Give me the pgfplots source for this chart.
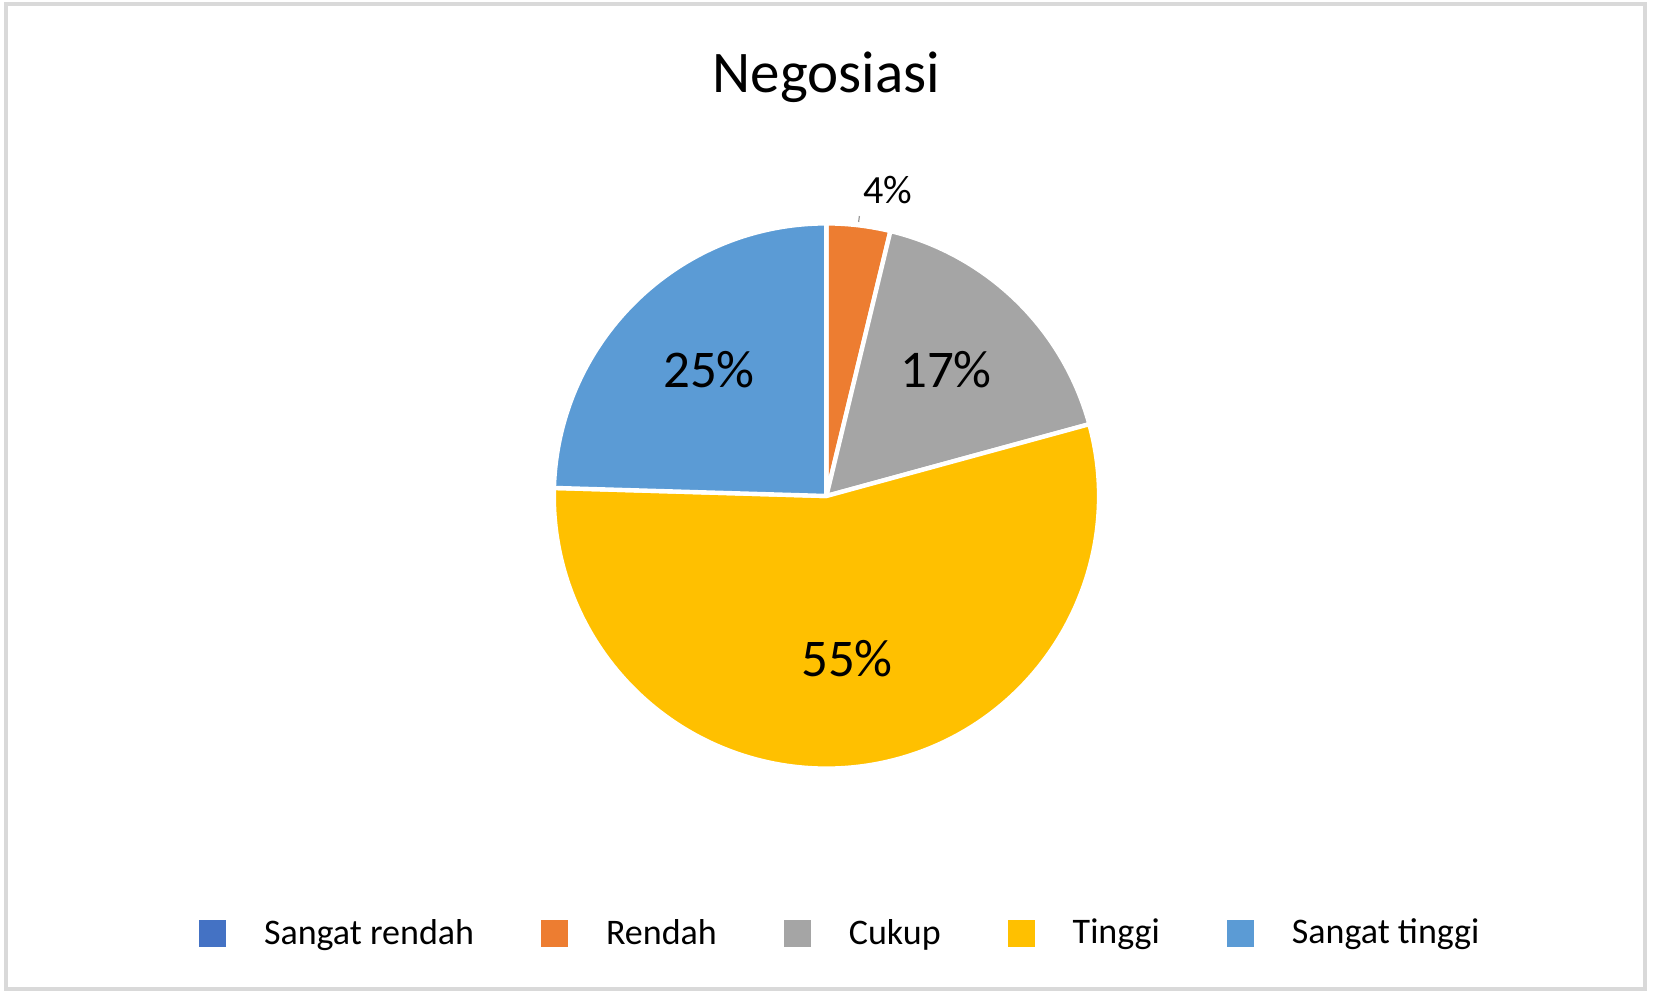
\documentclass[border=0pt]{standalone}
\usepackage{fontspec}
\setmainfont{Carlito}
\usepackage{pgfplots}
\usepackage{pgfplotstable}
\pgfplotsset{compat=1.18}
\definecolor{cSR}{HTML}{4472C4}
\definecolor{cR}{HTML}{ED7D31}
\definecolor{cC}{HTML}{A5A5A5}
\definecolor{cT}{HTML}{FFC000}
\definecolor{cST}{HTML}{5B9BD5}
\definecolor{frame}{HTML}{D9D9D9}

\pgfplotstableread{
cat value
SangatRendah 0
Rendah 2
Cukup 9
Tinggi 29
SangatTinggi 13
}\piedata
\pgfplotstablegetelem{0}{value}\of\piedata \let\vA\pgfplotsretval
\pgfplotstablegetelem{1}{value}\of\piedata \let\vB\pgfplotsretval
\pgfplotstablegetelem{2}{value}\of\piedata \let\vC\pgfplotsretval
\pgfplotstablegetelem{3}{value}\of\piedata \let\vD\pgfplotsretval
\pgfplotstablegetelem{4}{value}\of\piedata \let\vE\pgfplotsretval
\pgfmathsetmacro\tot{\vA+\vB+\vC+\vD+\vE}
\pgfmathsetmacro\aA{90}
\pgfmathsetmacro\aB{\aA-360*\vA/\tot}
\pgfmathsetmacro\aC{\aB-360*\vB/\tot}
\pgfmathsetmacro\aD{\aC-360*\vC/\tot}
\pgfmathsetmacro\aE{\aD-360*\vD/\tot}
\pgfmathsetmacro\aF{\aE-360*\vE/\tot}
\def\cx{413.2}\def\cy{248.5}\def\rr{136.3}

\begin{document}
\begin{tikzpicture}
\begin{axis}[
  x=1pt, y=1pt, xmin=0, xmax=826.5, ymin=0, ymax=496.5,
  scale only axis, hide axis, clip=false,
  legend image code/.code={\fill[#1, draw=none] (0pt,-6.75pt) rectangle (13.5pt,6.75pt);},
  legend columns=5,
  legend style={at={(axis cs:99.5,30)}, anchor=west, draw=none, fill=none,
    inner sep=0pt, outer sep=0pt,
    font=\fontsize{18}{21.6}\selectfont,
    nodes={inner sep=0pt},
    /tikz/every odd column/.append style={column sep=19pt},
    /tikz/every even column/.append style={column sep=33.5pt}},
]
\path (axis cs:0,0) rectangle (axis cs:826.5,496.5);
\draw[frame, line width=2pt] (axis cs:3,2) rectangle (axis cs:822.5,494.5);

\addlegendimage{fill=cSR, draw=none}\addlegendentry{Sangat rendah}
\addlegendimage{fill=cR, draw=none}\addlegendentry{Rendah}
\addlegendimage{fill=cC, draw=none}\addlegendentry{Cukup}
\addlegendimage{fill=cT, draw=none}\addlegendentry{Tinggi}
\addlegendimage{fill=cST, draw=none}\addlegendentry{Sangat tinggi}

\filldraw[fill=cR, draw=white, line width=2.2pt, line join=round] (axis cs:\cx,\cy) -- ++(\aB:\rr pt) arc[start angle=\aB, end angle=\aC, radius=\rr pt] -- cycle;
\filldraw[fill=cC, draw=white, line width=2.2pt, line join=round] (axis cs:\cx,\cy) -- ++(\aC:\rr pt) arc[start angle=\aC, end angle=\aD, radius=\rr pt] -- cycle;
\filldraw[fill=cT, draw=white, line width=2.2pt, line join=round] (axis cs:\cx,\cy) -- ++(\aD:\rr pt) arc[start angle=\aD, end angle=\aE, radius=\rr pt] -- cycle;
\filldraw[fill=cST, draw=white, line width=2.2pt, line join=round] (axis cs:\cx,\cy) -- ++(\aE:\rr pt) arc[start angle=\aE, end angle=\aF, radius=\rr pt] -- cycle;

\node[anchor=base, font=\fontsize{29.5}{35}\selectfont] at (axis cs:413.25,450) {Negosiasi};
\node[anchor=base, font=\fontsize{26.5}{32}\selectfont] at (axis cs:354.5,303) {25\%};
\node[anchor=base, font=\fontsize{26.5}{32}\selectfont] at (axis cs:473,303) {17\%};
\node[anchor=base, font=\fontsize{26.5}{32}\selectfont] at (axis cs:423.5,158.5) {55\%};
\node[anchor=base, font=\fontsize{20}{24}\selectfont] at (axis cs:444,395) {4\%};
\draw[gray!80, line width=0.6pt] (axis cs:429.7,388.5) -- (axis cs:429.3,385.5);
\end{axis}
\end{tikzpicture}
\end{document}
